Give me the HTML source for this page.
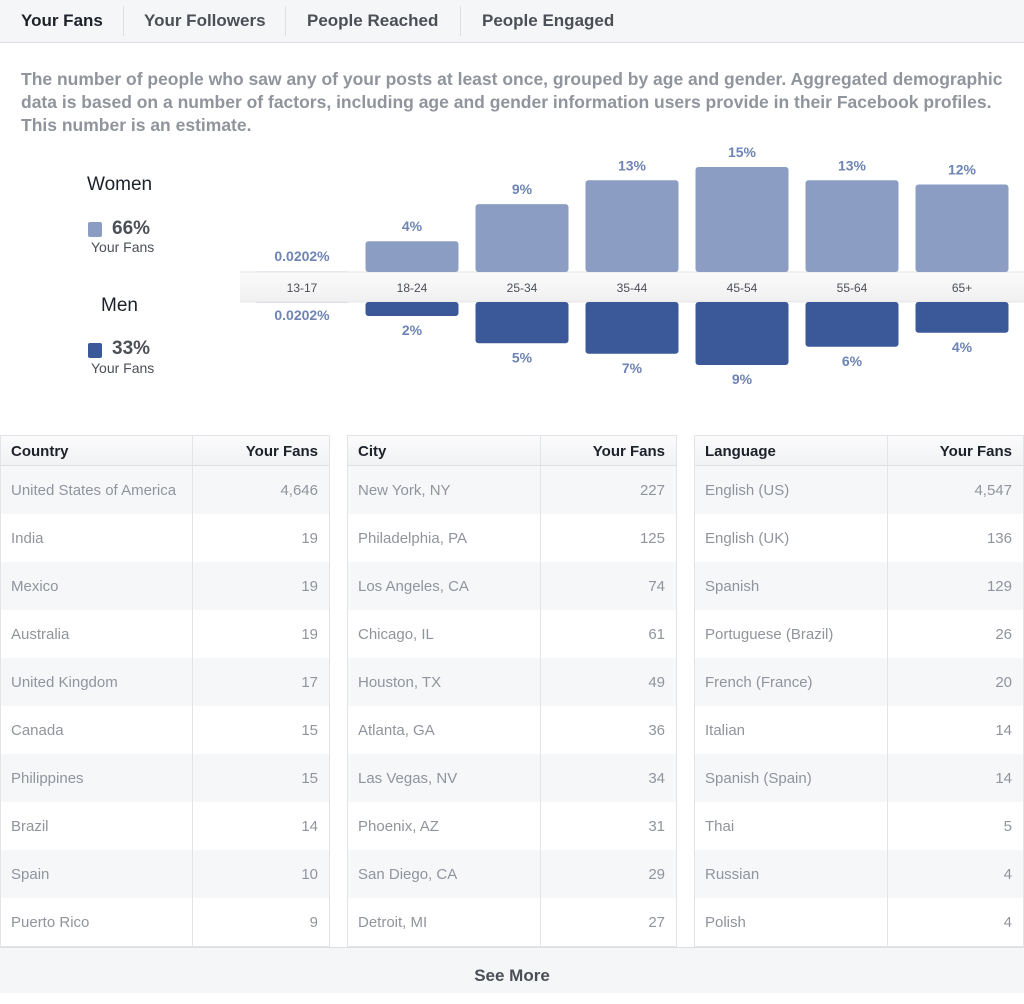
<!DOCTYPE html>
<html><head><meta charset="utf-8"><style>
*{margin:0;padding:0;box-sizing:border-box}
body{width:1024px;height:993px;background:#fff;font-family:"Liberation Sans",Arial,sans-serif;position:relative;overflow:hidden}
.tabs{position:absolute;left:0;top:0;width:1024px;height:43px;background:#f5f6f7;border-bottom:1px solid #dddfe2}
.tab{position:absolute;top:11px;font-size:17px;font-weight:bold;color:#4b4f56}
.sep{position:absolute;top:6px;width:1px;height:30px;background:#dddfe2}
.desc{position:absolute;left:21px;top:68px;width:1000px;font-size:17.5px;font-weight:bold;color:#90949c;line-height:23px}
.lg{position:absolute;color:#1d2129}
.tbl{position:absolute;top:435px;width:330px;height:512px;border:1px solid #e3e4e7;border-top:none}
.row{position:absolute;left:0;width:100%;height:48px;font-size:15px;color:#90949c}
.row span{position:absolute;top:16px}
.hdr{height:31px;top:0;background:linear-gradient(#fbfbfc,#f1f2f4);border-top:1px solid #e3e4e7;border-bottom:1px solid #dddfe2;color:#1d2129;font-weight:bold}
.hdr span{top:7px}
.vd{position:absolute;top:0;width:1px;height:512px;background:#e3e4e7}
.more{position:absolute;left:0;top:947px;width:1024px;height:46px;background:#f5f6f7;border-top:1px solid #dddfe2;text-align:center;font-size:17px;font-weight:bold;color:#4b4f56;line-height:56px}
</style></head><body>
<div class="tabs">
<span class="tab" style="left:21px;color:#1d2129">Your Fans</span>
<div class="sep" style="left:123px"></div>
<span class="tab" style="left:144px">Your Followers</span>
<div class="sep" style="left:285px"></div>
<span class="tab" style="left:307px">People Reached</span>
<div class="sep" style="left:460px"></div>
<span class="tab" style="left:482px">People Engaged</span>
</div>
<div class="desc">The number of people who saw any of your posts at least once, grouped by age and gender. Aggregated demographic data is based on a number of factors, including age and gender information users provide in their Facebook profiles. This number is an estimate.</div>

<div>
<div class="lg" style="left:87px;top:174px;font-size:19px">Women</div>
<div class="lg" style="left:88px;top:222px;width:14px;height:15px;background:#8b9dc3;border-radius:2px"></div>
<div class="lg" style="left:112px;top:218px;font-size:19px;font-weight:bold;color:#4b4f56">66%</div>
<div class="lg" style="left:91px;top:239px;font-size:14px;color:#4b4f56">Your Fans</div>
</div>
<div>
<div class="lg" style="left:101px;top:295px;font-size:19px">Men</div>
<div class="lg" style="left:88px;top:343px;width:14px;height:15px;background:#3b5998;border-radius:2px"></div>
<div class="lg" style="left:112px;top:338px;font-size:19px;font-weight:bold;color:#4b4f56">33%</div>
<div class="lg" style="left:91px;top:360px;font-size:14px;color:#4b4f56">Your Fans</div>
</div>

<svg id="chart" style="position:absolute;left:0;top:0" width="1024" height="420">
<defs><linearGradient id="band" x1="0" y1="0" x2="0" y2="1"><stop offset="0" stop-color="#fbfbfb"/><stop offset="1" stop-color="#f0f0f0"/></linearGradient></defs>
</svg>

<div id="tables"></div>
<div class="more">See More</div>

<script>
const categories=["13-17","18-24","25-34","35-44","45-54","55-64","65+"];
const women=[0.0202,4.4,9.7,13.1,15,13.1,12.5];
const men=[0.0202,2,5.9,7.4,9,6.4,4.4];
const womenLabels=["0.0202%","4%","9%","13%","15%","13%","12%"];
const menLabels=["0.0202%","2%","5%","7%","9%","6%","4%"];

const NS="http://www.w3.org/2000/svg";
const svg=document.getElementById('chart');
const x0=302,step=110,bw=93,topBase=272,botBase=302,scale=7;
const xc=i=>x0+i*step;
const hy=v=>v*scale;
function mk(t,a,txt){const e=document.createElementNS(NS,t);for(const k in a)e.setAttribute(k,a[k]);if(txt!=null)e.textContent=txt;svg.appendChild(e);return e;}
const band=mk('rect',{x:240,y:topBase,width:784,height:botBase-topBase,fill:'url(#band)'});


mk('line',{x1:240,y1:topBase,x2:1024,y2:topBase,stroke:'#e5e5e5'});
mk('line',{x1:240,y1:botBase,x2:1024,y2:botBase,stroke:'#e5e5e5'});
categories.forEach((c,i)=>{
  const hw=hy(women[i]),hm=hy(men[i]);
  const r1=mk('rect',{x:xc(i)-bw/2,y:topBase-hw,width:bw,height:hw,rx:3,fill:'#8b9dc3'});
  
  
  const r2=mk('rect',{x:xc(i)-bw/2,y:botBase,width:bw,height:hm,rx:3,fill:'#3b5998'});
  
  
  const t1=mk('text',{x:xc(i),y:topBase-hw-10-(hw<2?1:0),'text-anchor':'middle','font-size':14,'font-weight':'bold',fill:'#6d84b4'},womenLabels[i]);
  
  
  const t2=mk('text',{x:xc(i),y:botBase+hm+19-(hm<2?1:0),'text-anchor':'middle','font-size':14,'font-weight':'bold',fill:'#6d84b4'},menLabels[i]);
  
  
  const t3=mk('text',{x:xc(i),y:292,'text-anchor':'middle','font-size':12,fill:'#4b4f56'},c);
  
  
});

const tables=[
 {left:0,split:191,h:["Country","Your Fans"],name:"country-table",
  rows:[["United States of America","4,646"],["India","19"],["Mexico","19"],["Australia","19"],["United Kingdom","17"],["Canada","15"],["Philippines","15"],["Brazil","14"],["Spain","10"],["Puerto Rico","9"]]},
 {left:347,split:192,h:["City","Your Fans"],name:"city-table",
  rows:[["New York, NY","227"],["Philadelphia, PA","125"],["Los Angeles, CA","74"],["Chicago, IL","61"],["Houston, TX","49"],["Atlanta, GA","36"],["Las Vegas, NV","34"],["Phoenix, AZ","31"],["San Diego, CA","29"],["Detroit, MI","27"]]},
 {left:694,split:192,h:["Language","Your Fans"],name:"language-table",
  rows:[["English (US)","4,547"],["English (UK)","136"],["Spanish","129"],["Portuguese (Brazil)","26"],["French (France)","20"],["Italian","14"],["Spanish (Spain)","14"],["Thai","5"],["Russian","4"],["Polish","4"]]}
];
let html='';
tables.forEach(t=>{
  html+=`<div class="tbl" style="left:${t.left}px">`;
  html+=`<div class="row hdr"><span style="left:10px">${t.h[0]}</span><span style="right:11px">${t.h[1]}</span></div>`;
  t.rows.forEach((r,i)=>{
    html+=`<div class="row" style="top:${31+i*48}px;background:${i%2==0?'#f6f7f9':'#fff'}"><span style="left:10px">${r[0]}</span><span style="right:11px">${r[1]}</span></div>`;
  });
  html+=`<div class="vd" style="left:${t.split}px"></div></div>`;
});
document.getElementById('tables').innerHTML=html;
</script>
</body></html>
